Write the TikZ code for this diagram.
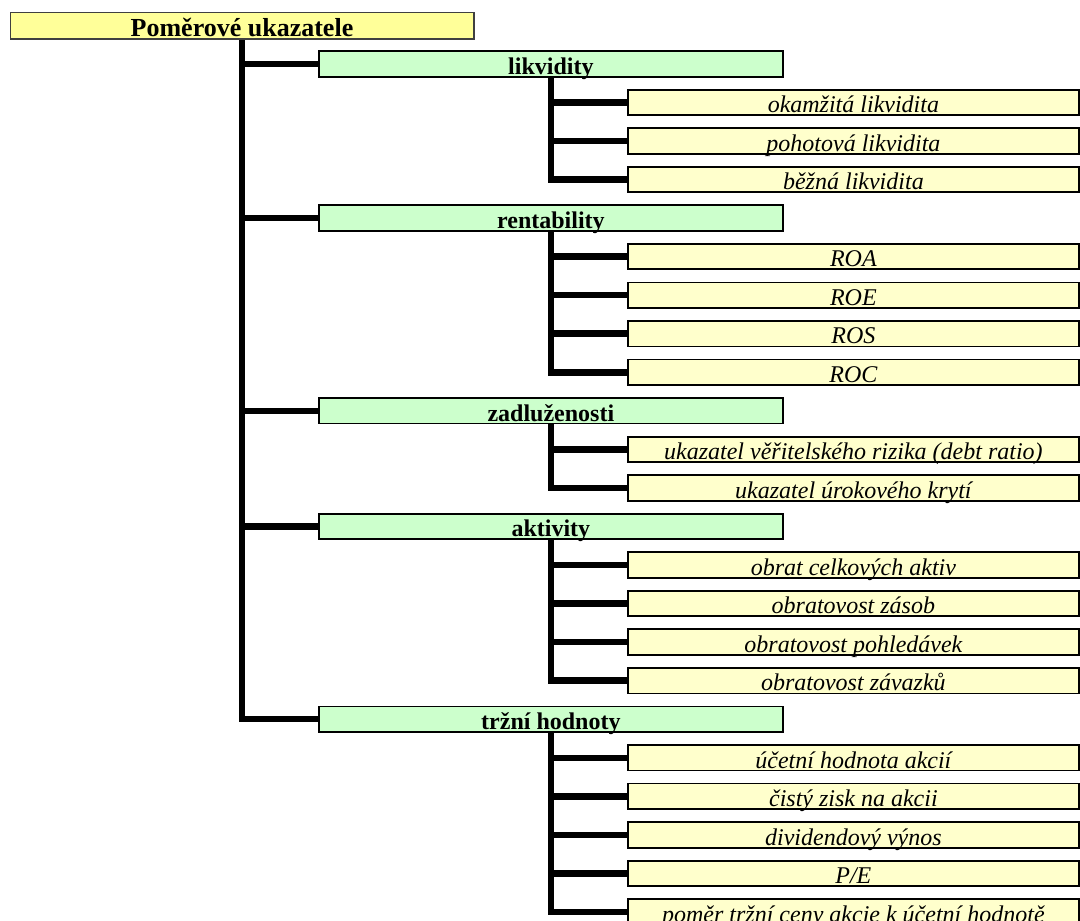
\documentclass[tikz,border=0pt]{standalone}
\usepackage{fontspec}
\setmainfont{Liberation Serif}
\usetikzlibrary{backgrounds}
\definecolor{rootfill}{HTML}{FFFF99}
\definecolor{groupfill}{HTML}{CCFFCC}
\definecolor{itemfill}{HTML}{FFFFCC}
\begin{document}
\begin{tikzpicture}[x=1pt,y=-1pt,
  box/.style={draw=black, line width=1.8pt, rectangle, inner sep=0pt,
    anchor=south west, text depth=2.5pt, text height=23pt},
  rootbox/.style={box, fill=rootfill, draw=black!75, line width=1.5pt,
    minimum width=463.5pt, text height=24pt,
    font=\bfseries\fontsize{26}{30}\selectfont},
  groupbox/.style={box, fill=groupfill, minimum width=464pt,
    font=\bfseries\fontsize{24}{28}\selectfont},
  itembox/.style={box, fill=itemfill, minimum width=451pt,
    font=\itshape\fontsize{24}{28}\selectfont},
  link/.style={line width=6.5pt, line join=miter}]
\useasboundingbox (0,0) rectangle (1080,921);

% row k has its bottom edge at 77.5 + 38.55*k
\node[rootbox] (root) at (9.5,39.5) {Poměrové ukazatele};

\node[groupbox] (g1) at (318,77.5+38.55*0) {likvidity};
\node[itembox] (a1) at (627,77.5+38.55*1) {okamžitá likvidita};
\node[itembox] (a2) at (627,77.5+38.55*2) {pohotová likvidita};
\node[itembox] (a3) at (627,77.5+38.55*3) {běžná likvidita};

\node[groupbox] (g2) at (318,77.5+38.55*4) {rentability};
\node[itembox] (b1) at (627,77.5+38.55*5) {ROA};
\node[itembox] (b2) at (627,77.5+38.55*6) {ROE};
\node[itembox] (b3) at (627,77.5+38.55*7) {ROS};
\node[itembox] (b4) at (627,77.5+38.55*8) {ROC};

\node[groupbox] (g3) at (318,77.5+38.55*9) {zadluženosti};
\node[itembox] (c1) at (627,77.5+38.55*10) {ukazatel věřitelského rizika (debt ratio)};
\node[itembox] (c2) at (627,77.5+38.55*11) {ukazatel úrokového krytí};

\node[groupbox] (g4) at (318,77.5+38.55*12) {aktivity};
\node[itembox] (d1) at (627,77.5+38.55*13) {obrat celkových aktiv};
\node[itembox] (d2) at (627,77.5+38.55*14) {obratovost zásob};
\node[itembox] (d3) at (627,77.5+38.55*15) {obratovost pohledávek};
\node[itembox] (d4) at (627,77.5+38.55*16) {obratovost závazků};

\node[groupbox] (g5) at (318,77.5+38.55*17) {tržní hodnoty};
\node[itembox] (e1) at (627,77.5+38.55*18) {účetní hodnota akcií};
\node[itembox] (e2) at (627,77.5+38.55*19) {čistý zisk na akcii};
\node[itembox] (e3) at (627,77.5+38.55*20) {dividendový výnos};
\node[itembox] (e4) at (627,77.5+38.55*21) {P/E};
\node[itembox] (e5) at (627,77.5+38.55*22) {poměr tržní ceny akcie k účetní hodnotě};

\begin{scope}[on background layer]
  \foreach \g in {g1,g2,g3,g4,g5}
    \draw[link] (root.south) |- (\g.west);
  \foreach \c in {a1,a2,a3}
    \draw[link] (g1.south) |- (\c.west);
  \foreach \c in {b1,b2,b3,b4}
    \draw[link] (g2.south) |- (\c.west);
  \foreach \c in {c1,c2}
    \draw[link] (g3.south) |- (\c.west);
  \foreach \c in {d1,d2,d3,d4}
    \draw[link] (g4.south) |- (\c.west);
  \foreach \c in {e1,e2,e3,e4,e5}
    \draw[link] (g5.south) |- (\c.west);
\end{scope}
\end{tikzpicture}
\end{document}
